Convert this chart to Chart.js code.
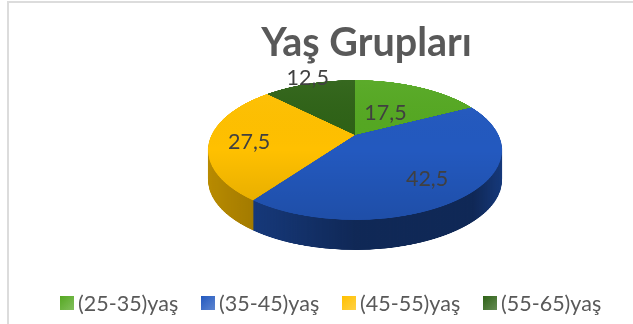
<!DOCTYPE html>
<html>
<head>
<meta charset="utf-8">
<script src="https://cdn.jsdelivr.net/npm/chart.js@4"></script>
<style>
  html, body { margin: 0; padding: 0; background: #fff; }
  #wrap { position: relative; width: 633px; height: 324px; overflow: hidden; }
  #frame { position: absolute; left: 7px; top: 1px; right: -5px; bottom: -5px; border: 2px solid #dcdcdc; }
  #legend { position: absolute; left: 60px; top: 290px; display: flex; font: 21.5px Lato, sans-serif; color: #595959; }
  #legend div { display: flex; align-items: center; width: 141px; white-space: nowrap; }
  #legend i { width: 14px; height: 14px; margin-right: 4px; display: block; }
</style>
</head>
<body>
<div id="wrap">
  <canvas id="myChart" width="633" height="324"></canvas>
  <div id="frame"></div>
  <div id="legend"></div>
</div>
<script>
const categories = ['(25-35)yaş', '(35-45)yaş', '(45-55)yaş', '(55-65)yaş'];
const values = [17.5, 42.5, 27.5, 12.5];
const colors = ['#55a822', '#2359bf', '#ffc000', '#2e6216'];

// the tilted pie: rim top 80, rim bottom 220, apex 135
const tilt = { cx: 355, R: 143.6, a: 37.9, b: 135, c: -0.214, top: 80, bottom: 220, depth: 30 };
const Rs = 300;
// label placement: r is how far out (1 = on the rim), dx is a small sideways shift
const labelPlace = [{ r: 0.47, dx: -2 }, { r: 0.72, dx: -4 }, { r: 0.73, dx: 0 }, { r: 1.2, dx: 6 }];

function project(u, v) {
    const d = 1 + tilt.c * v;
    return { x: tilt.cx + tilt.R * u / d, y: (tilt.a * v + tilt.b) / d };
}

function newCanvas(w, h) {
    const c = document.createElement('canvas');
    c.width = w;
    c.height = h;
    return c;
}

// copy the flat round pie row by row so it looks tilted
function warp(ctx, src, dy) {
    const size = src.width;
    for (let y = tilt.top; y < tilt.bottom; y++) {
        const v1 = (y - tilt.b) / (tilt.a - tilt.c * y);
        const v2 = (y + 1 - tilt.b) / (tilt.a - tilt.c * (y + 1));
        const s = (tilt.R / Rs) / (1 + tilt.c * (v1 + v2) / 2);
        ctx.drawImage(src, 0, size / 2 + Rs * v1, size, Rs * (v2 - v1),
            tilt.cx - size / 2 * s, y + dy, size * s, 1);
    }
}

const tiltPie = {
    id: 'tiltPie',
    beforeDatasetsDraw(chart) {
        const ctx = chart.ctx;
        const arcs = chart.getDatasetMeta(0).data;
        const size = Rs * 2 + 4;

        // flat pie, drawn by the arc elements themselves
        const flat = newCanvas(size, size);
        const fctx = flat.getContext('2d');
        const k = Rs / arcs[0].outerRadius;
        fctx.setTransform(k, 0, 0, k, size / 2 - arcs[0].x * k, size / 2 - arcs[0].y * k);
        arcs.forEach(a => a.draw(fctx));
        fctx.setTransform(1, 0, 0, 1, 0, 0);

        // side wall
        const side = newCanvas(633, 324);
        const sctx = side.getContext('2d');
        for (let d = tilt.depth; d > 0; d--) warp(sctx, flat, d);
        sctx.globalCompositeOperation = 'source-atop';
        const g1 = sctx.createLinearGradient(208, 0, 503, 0);
        g1.addColorStop(0, 'rgba(0,0,0,0.28)');
        g1.addColorStop(0.5, 'rgba(0,0,0,0.55)');
        g1.addColorStop(0.9, 'rgba(0,0,0,0.55)');
        g1.addColorStop(1, 'rgba(0,0,0,0.35)');
        sctx.fillStyle = g1;
        sctx.fillRect(0, 0, 633, 324);
        ctx.drawImage(side, 0, 0);

        // top face
        const face = newCanvas(633, 324);
        const tctx = face.getContext('2d');
        warp(tctx, flat, 0);
        tctx.globalCompositeOperation = 'source-atop';
        const g2 = tctx.createLinearGradient(0, tilt.top, 0, tilt.bottom);
        g2.addColorStop(0, 'rgba(255,255,255,0.04)');
        g2.addColorStop(0.5, 'rgba(0,0,0,0)');
        g2.addColorStop(1, 'rgba(0,0,0,0.12)');
        tctx.fillStyle = g2;
        tctx.fillRect(0, 0, 633, 324);
        ctx.drawImage(face, 0, 0);

        // value labels
        ctx.save();
        ctx.font = '21.5px Lato, sans-serif';
        ctx.fillStyle = '#404040';
        ctx.textAlign = 'center';
        ctx.textBaseline = 'middle';
        arcs.forEach((a, i) => {
            const mid = (a.startAngle + a.endAngle) / 2;
            const place = labelPlace[i];
            const p = project(Math.cos(mid) * place.r, Math.sin(mid) * place.r);
            ctx.fillText(String(values[i]).replace('.', ','), p.x + place.dx, p.y + 3);
        });
        ctx.restore();
        return false;
    }
};

new Chart(document.getElementById('myChart'), {
    type: 'pie',
    data: {
        labels: categories,
        datasets: [{ data: values, backgroundColor: colors, borderWidth: 0 }]
    },
    options: {
        responsive: false,
        animation: false,
        layout: { padding: { left: 100 } },
        plugins: {
            legend: { display: false },
            tooltip: { enabled: false },
            title: {
                display: true,
                text: 'Yaş Grupları',
                color: '#595959',
                font: { family: 'Lato, sans-serif', size: 39.5, weight: 'bold' },
                padding: { top: 20, bottom: 6 }
            }
        }
    },
    plugins: [tiltPie]
});

document.getElementById('legend').innerHTML = categories.map((c, i) =>
    '<div><i style="background:linear-gradient(135deg,' + colors[i] + ',' + colors[i] + 'bb)"></i>' + c + '</div>'
).join('');
</script>
</body>
</html>
